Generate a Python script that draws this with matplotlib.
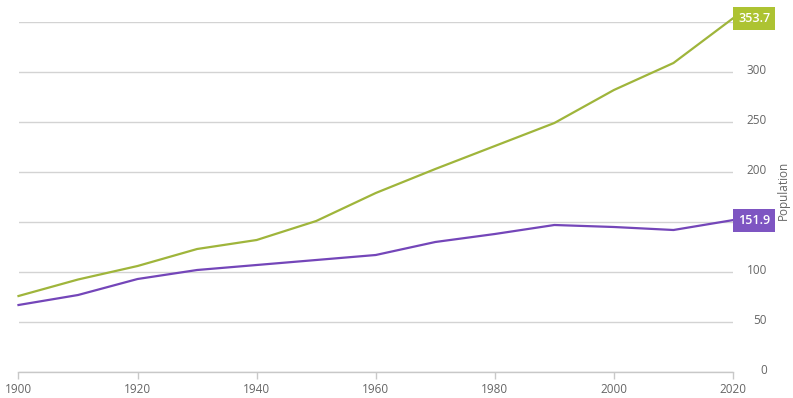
import matplotlib.pyplot as plt
from matplotlib.transforms import ScaledTranslation

years = [1900, 1910, 1920, 1930, 1940, 1950, 1960, 1970, 1980, 1990, 2000, 2010, 2020]
green_vals = [76, 92.5, 106, 123, 132, 151, 179, 203, 226, 249, 282, 309, 353.7]
purple_vals = [67, 77, 93, 102, 107, 112, 117, 130, 138, 147, 145, 142, 151.9]
x_ticks = [1900, 1920, 1940, 1960, 1980, 2000, 2020]
y_ticks = [0, 50, 100, 150, 200, 250, 300, 350]
# 150 and 350 sit under the end-value boxes
y_labels = ['0', '50', '100', '', '200', '250', '300', '']

green_line = '#9fb53b'
green_box = '#adc332'
purple_line = '#7446b9'
purple_box = '#7e55c2'
txt = '#666666'
grid = '#d3d3d3'

plt.rcParams['font.family'] = ['Open Sans', 'DejaVu Sans']

fig = plt.figure(figsize=(7.93, 3.98), dpi=100)
W, H = 793, 398
ax = fig.add_axes([18.5 / W, (H - 372) / H, (733 - 18.5) / W, 350 / H])

ax.plot(years, green_vals, color=green_line, lw=1.6, clip_on=False, zorder=3)
ax.plot(years, purple_vals, color=purple_line, lw=1.6, clip_on=False, zorder=3)

ax.set_xlim(1900, 2020)
ax.set_ylim(0, 350)

for s in ['top', 'left', 'right']:
    ax.spines[s].set_visible(False)
ax.spines['bottom'].set_color('#c8c8c8')
ax.spines['bottom'].set_linewidth(1)

ax.set_xticks(x_ticks)
ax.tick_params(axis='x', colors='#c8c8c8', labelcolor=txt, length=5, width=1,
               labelsize=8.5, pad=3)

ax.yaxis.tick_right()
ax.set_yticks(y_ticks)
ax.set_yticklabels(y_labels)
ax.tick_params(axis='y', length=0, labelcolor=txt, labelsize=8.5, pad=24.5)
for lab in ax.get_yticklabels():
    lab.set_horizontalalignment('right')
    lab.set_transform(lab.get_transform() + ScaledTranslation(0, 3 / 100, fig.dpi_scale_trans))
ax.yaxis.grid(True, color=grid, lw=1)
ax.set_axisbelow(True)

ax.set_ylabel('Population', color=txt, fontsize=8.5, rotation=90)
ax.yaxis.set_label_position('right')
ax.yaxis.set_label_coords(1.0 + 44 / 714.5, 0.52)

for vals, col in [(green_vals, green_box), (purple_vals, purple_box)]:
    ax.annotate(f'{vals[-1]:.1f}', xy=(years[-1], vals[-1]), xytext=(3.6, 0),
                textcoords='offset points', ha='left', va='center', color='white',
                fontsize=9, fontweight='semibold', annotation_clip=False, zorder=5,
                bbox=dict(boxstyle='square,pad=0.4', fc=col, ec='none'))

fig.savefig('out.png', dpi=100)
